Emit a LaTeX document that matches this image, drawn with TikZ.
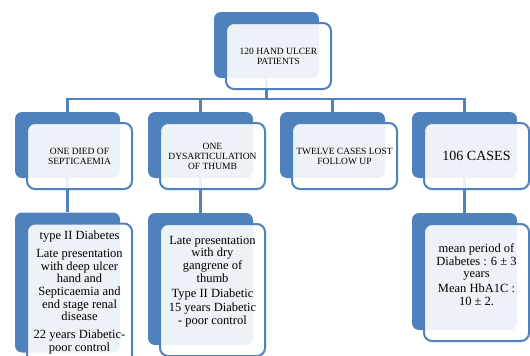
\documentclass[tikz,border=0pt]{standalone}
\usepackage{fontspec}
\setmainfont{Liberation Serif}
\usepackage{tikz}
\definecolor{smartblue}{HTML}{4F81BD}
\pgfdeclarelayer{background}
\pgfsetlayers{background,main}
\tikzset{
  backbox/.style={fill=smartblue, rounded corners=7pt, minimum width=105pt, inner sep=0pt},
  frontbox/.style={draw=smartblue, line width=2pt, fill=white, fill opacity=0.9, text opacity=1,
    rounded corners=8pt, minimum width=105pt, align=center, inner sep=3pt},
  capsbox/.style={minimum height=66pt, font=\fontsize{9.5}{10}\selectfont},
  notetext/.style={align=center, inner sep=0pt, font=\fontsize{12.5}{12.7}\selectfont},
  link/.style={draw=smartblue, line width=2.5pt}
}

\begin{document}
\begin{tikzpicture}[x=1pt,y=-1pt]
  \useasboundingbox (0,0) rectangle (530,356);
  \coordinate (bus) at (0,99);
  \node[frontbox,capsbox] (top) at (278.5,56) {120 HAND ULCER\\PATIENTS};
%--------------------------------------------------------------------------------
  \node[frontbox,capsbox] (died) at (79.5,156) {ONE DIED OF\\SEPTICAEMIA};
  \node[frontbox,capsbox] (thumb) at (212.5,156) {ONE\\DYSARTICULATION\\OF THUMB};
  \node[frontbox,capsbox] (lost) at (344.5,156) {TWELVE CASES LOST\\FOLLOW UP};
  \node[frontbox,capsbox,font=\fontsize{14}{15}\selectfont] (cases) at (476.5,156) {106 CASES};
%--------------------------------------------------------------------------------
  \node[frontbox,minimum height=140pt] (diednote) at (79.5,293.5) {};
  \node[frontbox,minimum height=132pt] (thumbnote) at (212.5,290) {};
  \node[frontbox,minimum height=117pt] (casesnote) at (476.5,282.5) {};
  \node[notetext] (diedtext) at (79.5,292.5)
    {type II Diabetes\\[5pt] Late presentation\\ with deep ulcer\\ hand and\\ Septicaemia and\\
     end stage renal\\ disease\\[5pt] 22 years Diabetic-\\ poor control};
  \node[notetext] (thumbtext) at (212.5,281.5)
    {Late presentation\\ with dry\\ gangrene of\\ thumb\\[2pt] Type II Diabetic\\[2pt]
     15 years Diabetic\\ - poor control};
  \node[notetext] (casestext) at (476.5,274.5)
    {mean period of\\ Diabetes : 6 ± 3\\ years\\[2pt] Mean HbA1C :\\ 10 ± 2.};
%--------------------------------------------------------------------------------
  \begin{pgfonlayer}{background}
    \node[backbox,minimum height=66pt,xshift=-12pt,yshift=11pt] (top-b) at (top) {};
    \foreach \n in {died,thumb,lost,cases}
      \node[backbox,minimum height=66pt,xshift=-12pt,yshift=11pt] (\n-b) at (\n) {};
    \node[backbox,minimum height=140pt,xshift=-12pt,yshift=11pt] (diednote-b) at (diednote) {};
    \node[backbox,minimum height=132pt,xshift=-12pt,yshift=11pt] (thumbnote-b) at (thumbnote) {};
    \node[backbox,minimum height=117pt,xshift=-12pt,yshift=11pt] (casesnote-b) at (casesnote) {};
    \foreach \n in {died,thumb,lost,cases}
      \draw[link] (top-b.south) -- (top-b.south |- bus) -| (\n-b.north);
    \foreach \n in {died,thumb,cases}
      \draw[link] (\n-b.south) -- (\n note-b.north);
  \end{pgfonlayer}
\end{tikzpicture}
\end{document}
